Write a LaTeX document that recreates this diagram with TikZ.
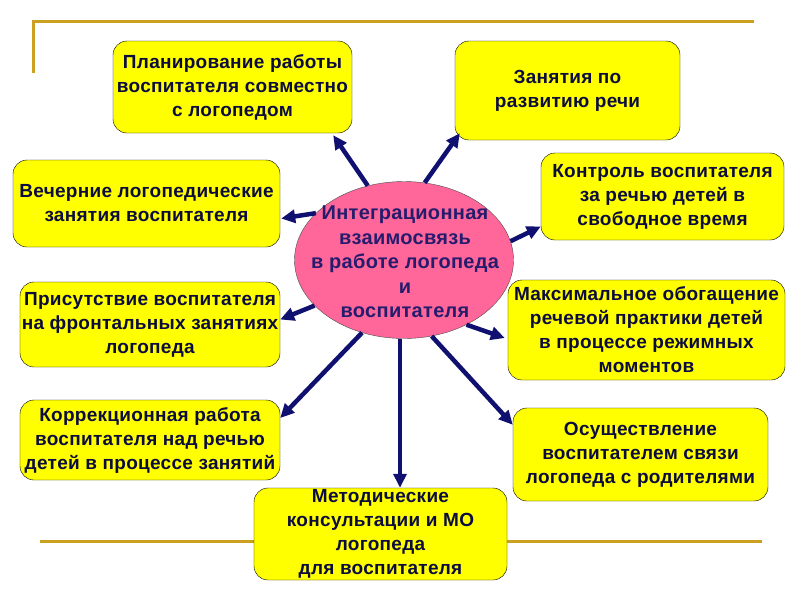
\documentclass[tikz,border=0pt]{standalone}
\usepackage{fontspec}
\setmainfont{Liberation Sans}[LetterSpace=1.5]
\usetikzlibrary{positioning,calc,shapes.geometric,arrows.meta}
\definecolor{boxyellow}{RGB}{255,255,0}
\definecolor{hubpink}{RGB}{255,102,153}
\definecolor{inkblue}{RGB}{12,12,62}
\definecolor{hubink}{RGB}{38,28,110}
\definecolor{arrowblue}{RGB}{16,16,112}
\definecolor{rulegold}{RGB}{204,160,32}
\tikzset{ybox/.style={draw=black, fill=boxyellow, rounded corners=14pt, inner sep=0pt, align=center, text=inkblue, font=\fontsize{19}{24}\selectfont\bfseries}}
\tikzset{hub/.style={ellipse, draw=black!70, fill=hubpink, inner sep=0pt, minimum width=219pt, minimum height=157pt}}
\tikzset{hubtext/.style={inner sep=0pt, align=center, text=hubink, font=\fontsize{20}{24.5}\selectfont\bfseries}}
\tikzset{arr/.style={draw=arrowblue, line width=4.5pt, -{Triangle[length=14pt,width=13pt]}}}
\tikzset{goldrule/.style={draw=rulegold, line width=3pt}}
\begin{document}
\begin{tikzpicture}[x=1pt, y=-1pt]
   \useasboundingbox (0,0) rectangle (800,600);
   % slide rules
   \draw[goldrule] (33,73) -- (33,21) -- (754,21);
   \draw[goldrule] (40,541) -- (762,541);
   % centre
   \node[hub] (hub) at (404,260) {};
   % boxes round it
   \node[ybox, minimum width=239pt, minimum height=92pt] (plan) at (232.5,87)
       {Планирование работы\\воспитателя совместно\\с логопедом};
   \node[ybox, minimum width=225pt, minimum height=99pt] (speech) at (567.5,90.5)
       {Занятия по\\развитию речи};
   \node[ybox, minimum width=267pt, minimum height=87pt] (evening) at (146.5,203.5)
       {Вечерние логопедические\\занятия воспитателя};
   \node[ybox, minimum width=243pt, minimum height=87pt] (control) at (662.5,196.5)
       {Контроль воспитателя\\за речью детей в\\свободное время};
   \node[ybox, minimum width=260pt, minimum height=85pt] (presence) at (150,324.5)
       {Присутствие воспитателя\\на фронтальных занятиях\\логопеда};
   \node[ybox, minimum width=277pt, minimum height=100pt] (enrich) at (646.5,330)
       {Максимальное обогащение\\речевой практики детей\\в процессе режимных\\моментов};
   \node[ybox, minimum width=260pt, minimum height=80pt] (correct) at (150,440)
       {Коррекционная работа\\воспитателя над речью\\детей в процессе занятий};
   \node[ybox, minimum width=255pt, minimum height=93pt] (contact) at (640.5,454.5)
       {Осуществление\\воспитателем связи\\логопеда с родителями};
   \node[ybox, minimum width=253pt, minimum height=92pt] (method) at (380.5,534)
       {Методические\\консультации и МО\\логопеда\\для воспитателя};
   % arrows
   \draw[arr] (hub.116.6) -- ([xshift=-19pt,yshift=-2pt]plan.south east);
   \draw[arr] (hub.75) -- ([xshift=5pt,yshift=7pt]speech.south west);
   \draw[arr] (hub.152) -- ([xshift=1pt,yshift=-15pt]evening.east);
   \draw[arr] (hub.10.5) -- ([yshift=-30pt]control.west);
   \draw[arr] (hub.207) -- ([yshift=5pt]presence.east);
   \draw[arr] (hub.-46.8) -- ([xshift=-3pt,yshift=-8pt]enrich.west);
   \draw[arr] (hub.-120) -- ([yshift=22pt]correct.east);
   \draw[arr] ([xshift=-4pt]hub.south) -- ([xshift=19.5pt]method.north);
   \draw[arr] (hub.-70.3) -- ([yshift=-17pt]contact.north west);
   % centre text over the arrow ends
   \node[hubtext] (hubtext) at ([xshift=1pt,yshift=-2pt]hub.center)
       {Интеграционная\\взаимосвязь\\в работе логопеда\\и\\воспитателя};
\end{tikzpicture}
\end{document}
